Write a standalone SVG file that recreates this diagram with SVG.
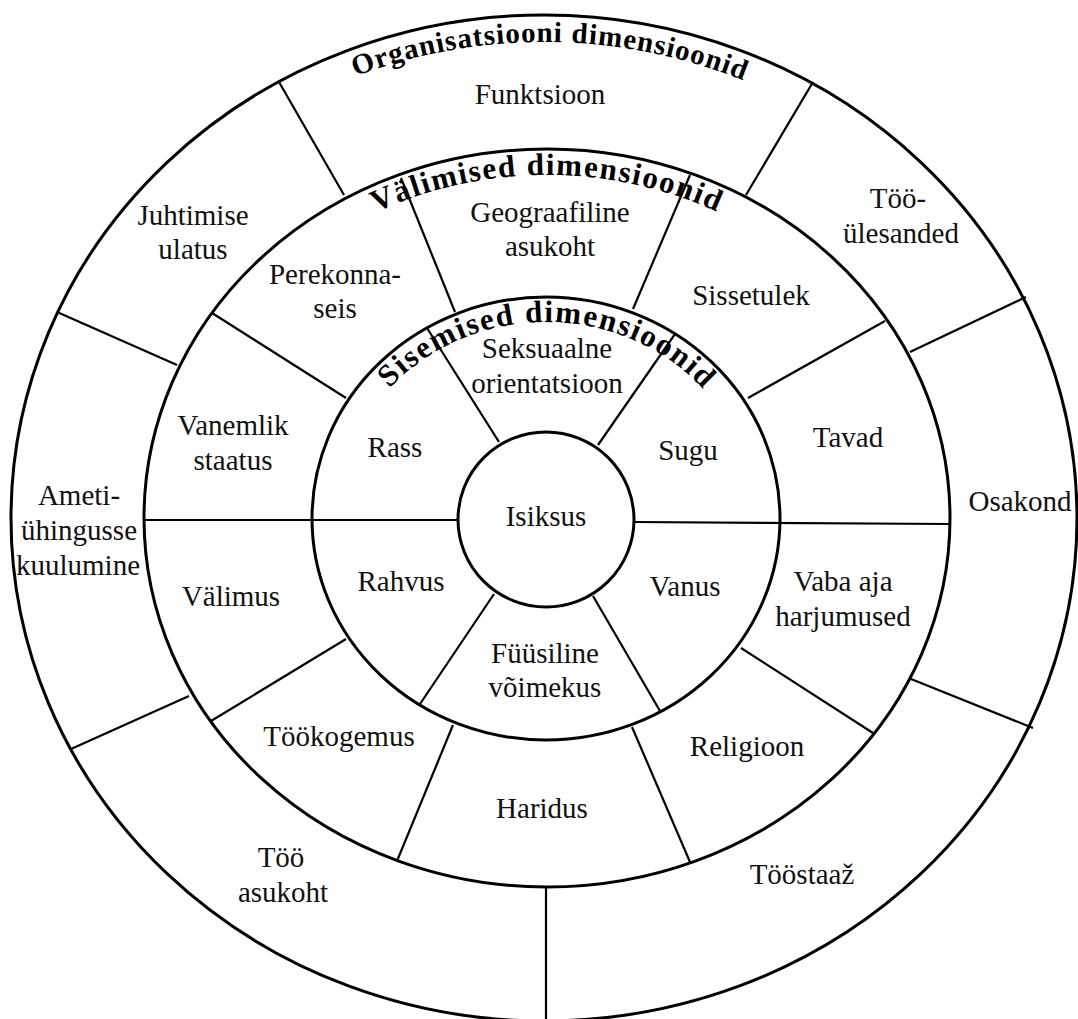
<svg xmlns="http://www.w3.org/2000/svg" xmlns:xlink="http://www.w3.org/1999/xlink" width="1078" height="1019" viewBox="0 0 1078 1019">
  <style>
    .ring { fill: none; stroke: #000; stroke-width: 3; }
    .core { fill: #fff; stroke: #000; stroke-width: 3; }
    .div { stroke: #000; stroke-width: 2.2; fill: none; }
    .lbl { font-family: "Liberation Serif", "Times New Roman", serif; font-size: 29px; fill: #111; text-anchor: middle; }
    .ttl { font-family: "Liberation Serif", "Times New Roman", serif; font-weight: bold; fill: #000; text-anchor: middle; }
  </style>
  <defs>
    <!-- baseline arcs for the ring titles (left to right over the top) -->
    <path id="arc-org" d="M 38 518 A 506 476 0 0 1 1050 518"/>
    <path id="arc-val" d="M 170 518 A 377 343 0 0 1 924 518"/>
    <path id="arc-sis" d="M 337 518.5 A 209 196.5 0 0 1 755 518.5"/>
  </defs>

  <rect width="1078" height="1019" fill="#fff"/>

  <!-- rings -->
  <g id="ring-organisatsioon">
    <ellipse class="ring" cx="544" cy="518" rx="533" ry="503"/>
  </g>
  <g id="ring-valimised">
    <ellipse class="ring" cx="547" cy="518" rx="403" ry="369"/>
  </g>
  <g id="ring-sisemised">
    <ellipse class="ring" cx="546" cy="518.5" rx="234" ry="221.5"/>
  </g>

  <!-- sector dividers -->
  <g id="dividers">
    <line class="div" x1="279" y1="82" x2="344" y2="195"/>
    <line class="div" x1="813" y1="82" x2="746" y2="195"/>
    <line class="div" x1="1026" y1="297" x2="910" y2="352"/>
    <line class="div" x1="1033" y1="728" x2="911" y2="679"/>
    <line class="div" x1="546" y1="887" x2="546" y2="1019"/>
    <line class="div" x1="71" y1="749" x2="189" y2="696"/>
    <line class="div" x1="57" y1="312" x2="177" y2="365"/>

    <line class="div" x1="455" y1="312" x2="401" y2="178"/>
    <line class="div" x1="633" y1="309" x2="690" y2="175"/>
    <line class="div" x1="748" y1="398" x2="885" y2="321"/>
    <line class="div" x1="634" y1="522" x2="950" y2="524"/>
    <line class="div" x1="741" y1="648" x2="873" y2="733"/>
    <line class="div" x1="632" y1="727" x2="690" y2="862"/>
    <line class="div" x1="453" y1="725" x2="397" y2="861"/>
    <line class="div" x1="346" y1="639" x2="211" y2="721"/>
    <line class="div" x1="144" y1="520" x2="458" y2="520"/>
    <line class="div" x1="346" y1="398" x2="212" y2="313"/>

    <line class="div" x1="499" y1="442" x2="427" y2="328"/>
    <line class="div" x1="598" y1="445" x2="675" y2="334"/>
    <line class="div" x1="593" y1="596" x2="660" y2="711"/>
    <line class="div" x1="494" y1="594" x2="420" y2="704"/>
  </g>

  <g id="core-isiksus">
    <ellipse class="core" cx="546" cy="519.5" rx="88" ry="87.5"/>
    <text class="lbl" x="546" y="526">Isiksus</text>
  </g>

  <!-- ring titles -->
  <g id="title-organisatsioon">
    <text class="ttl" font-size="29" letter-spacing="1"><textPath xlink:href="#arc-org" href="#arc-org" startOffset="50.4%">Organisatsiooni dimensioonid</textPath></text>
  </g>
  <g id="title-valimised">
    <text class="ttl" font-size="31" letter-spacing="1.6"><textPath xlink:href="#arc-val" href="#arc-val" startOffset="50%">Välimised dimensioonid</textPath></text>
  </g>
  <g id="title-sisemised">
    <text class="ttl" font-size="31" letter-spacing="1.7"><textPath xlink:href="#arc-sis" href="#arc-sis" startOffset="50.2%">Sisemised dimensioonid</textPath></text>
  </g>

  <!-- organisational dimensions -->
  <g id="seg-funktsioon"><text class="lbl" x="540" y="104">Funktsioon</text></g>
  <g id="seg-tooulesanded"><text class="lbl"><tspan x="898" y="208">Töö-</tspan><tspan x="901" y="243">ülesanded</tspan></text></g>
  <g id="seg-osakond"><text class="lbl" x="1020" y="511">Osakond</text></g>
  <g id="seg-toostaaz"><text class="lbl" x="802" y="884">Tööstaaž</text></g>
  <g id="seg-tooasukoht"><text class="lbl"><tspan x="281" y="867">Töö</tspan><tspan x="283" y="902">asukoht</tspan></text></g>
  <g id="seg-ametiuhing"><text class="lbl"><tspan x="79" y="505">Ameti-</tspan><tspan x="79" y="540">ühingusse</tspan><tspan x="78" y="575">kuulumine</tspan></text></g>
  <g id="seg-juhtimine"><text class="lbl"><tspan x="193" y="225">Juhtimise</tspan><tspan x="193" y="259">ulatus</tspan></text></g>

  <!-- external dimensions -->
  <g id="seg-geograafiline"><text class="lbl"><tspan x="550" y="222">Geograafiline</tspan><tspan x="550" y="256">asukoht</tspan></text></g>
  <g id="seg-sissetulek"><text class="lbl" x="751" y="305">Sissetulek</text></g>
  <g id="seg-tavad"><text class="lbl" x="848" y="447">Tavad</text></g>
  <g id="seg-vabaaeg"><text class="lbl"><tspan x="843" y="591">Vaba aja</tspan><tspan x="843" y="626">harjumused</tspan></text></g>
  <g id="seg-religioon"><text class="lbl" x="747" y="756">Religioon</text></g>
  <g id="seg-haridus"><text class="lbl" x="542" y="818">Haridus</text></g>
  <g id="seg-tookogemus"><text class="lbl" x="339" y="746">Töökogemus</text></g>
  <g id="seg-valimus"><text class="lbl" x="231" y="606">Välimus</text></g>
  <g id="seg-vanemlik"><text class="lbl"><tspan x="233" y="435">Vanemlik</tspan><tspan x="233" y="470">staatus</tspan></text></g>
  <g id="seg-perekonnaseis"><text class="lbl"><tspan x="335" y="284">Perekonna-</tspan><tspan x="335" y="318">seis</tspan></text></g>

  <!-- internal dimensions -->
  <g id="seg-seksuaalne"><text class="lbl"><tspan x="547" y="358">Seksuaalne</tspan><tspan x="547" y="393">orientatsioon</tspan></text></g>
  <g id="seg-sugu"><text class="lbl" x="688" y="460">Sugu</text></g>
  <g id="seg-vanus"><text class="lbl" x="685" y="596">Vanus</text></g>
  <g id="seg-fuusiline"><text class="lbl"><tspan x="545" y="663">Füüsiline</tspan><tspan x="545" y="697">võimekus</tspan></text></g>
  <g id="seg-rahvus"><text class="lbl" x="401" y="591">Rahvus</text></g>
  <g id="seg-rass"><text class="lbl" x="395" y="457">Rass</text></g>
</svg>
